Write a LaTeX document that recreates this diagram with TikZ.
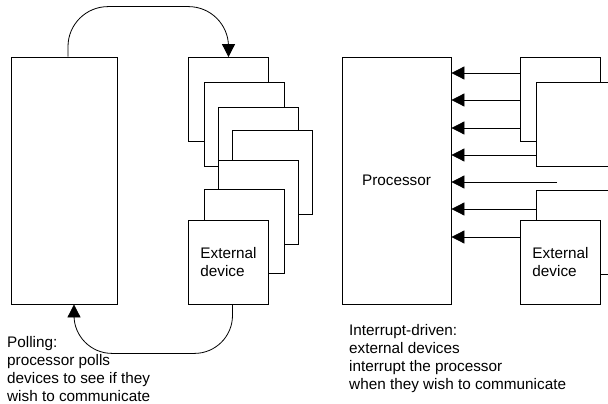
\documentclass[tikz,border=0pt]{standalone}
\usepackage{fontspec}
\setmainfont{Liberation Sans}
\usetikzlibrary{arrows.meta}
\tikzset{
  procbox/.style={draw, fill=white, line width=0.8pt, inner sep=0pt, minimum height=247pt},
  devbox/.style={draw, fill=white, line width=0.8pt, inner sep=0pt, minimum width=80pt, minimum height=84pt, align=left},
  sig/.style={line width=0.8pt, -{Triangle[length=13pt,width=13pt]}},
  note/.style={inner sep=0pt, anchor=north west, align=left}
}
\begin{document}
\begin{tikzpicture}[x=1pt, y=-1pt, font=\fontsize{15.3}{18}\selectfont]
                    \useasboundingbox (0,0) rectangle (608,404);
                    \clip (0,0) rectangle (608,404);
                    \node[procbox, minimum width=106pt] (lproc) at (64,180.5) {};
                    \node[devbox] (ldev1) at (228.5,99.5) {};
                    \node[devbox] (ldev2) at (244,124) {};
                    \node[devbox] (ldev3) at (258,149) {};
                    \node[devbox] (ldev4) at (272,172.5) {};
                    \node[devbox] (ldev5) at (258,202.5) {};
                    \node[devbox] (ldev6) at (244,231.5) {};
                    \node[devbox] (ldev7) at (228.5,262) {External\\device};
                    \draw[sig, rounded corners=40pt] ([xshift=4pt]lproc.north) -- ++(0,-50) -| (ldev1.north);
                    \draw[sig, rounded corners=38pt] ([xshift=4pt]ldev7.south) -- ++(0,49) -| ([xshift=10pt]lproc.south);
                    \node[note] (polling) at (7,336) {Polling:\\processor polls\\devices to see if they\\wish to communicate};
                    \node[procbox, minimum width=109pt] (rproc) at (396.5,180.5) {Processor};
                    \node[devbox] (rdevA) at (560.5,99.5) {};
                    \node[devbox] (rdevB) at (576,124.5) {};
                    \node[devbox] (rdevC) at (576,232) {};
                    \node[devbox] (rdevD) at (560.5,262) {External\\device};
                    \coordinate (loose) at (557,182);
                    \foreach \y in {73,100,128}
                      \draw[sig] (rdevA.west |- 0,\y) -- (rproc.east |- 0,\y);
                    \draw[sig] (rdevB.west |- 0,155) -- (rproc.east |- 0,155);
                    \draw[sig] (loose) -- (rproc.east |- loose);
                    \draw[sig] (rdevC.west |- 0,209) -- (rproc.east |- 0,209);
                    \draw[sig] (rdevD.west |- 0,237) -- (rproc.east |- 0,237);
                    \node[note] (interrupt) at (349,324) {Interrupt-driven:\\external devices\\interrupt the processor\\when they wish to communicate};
                  \end{tikzpicture}
\end{document}
